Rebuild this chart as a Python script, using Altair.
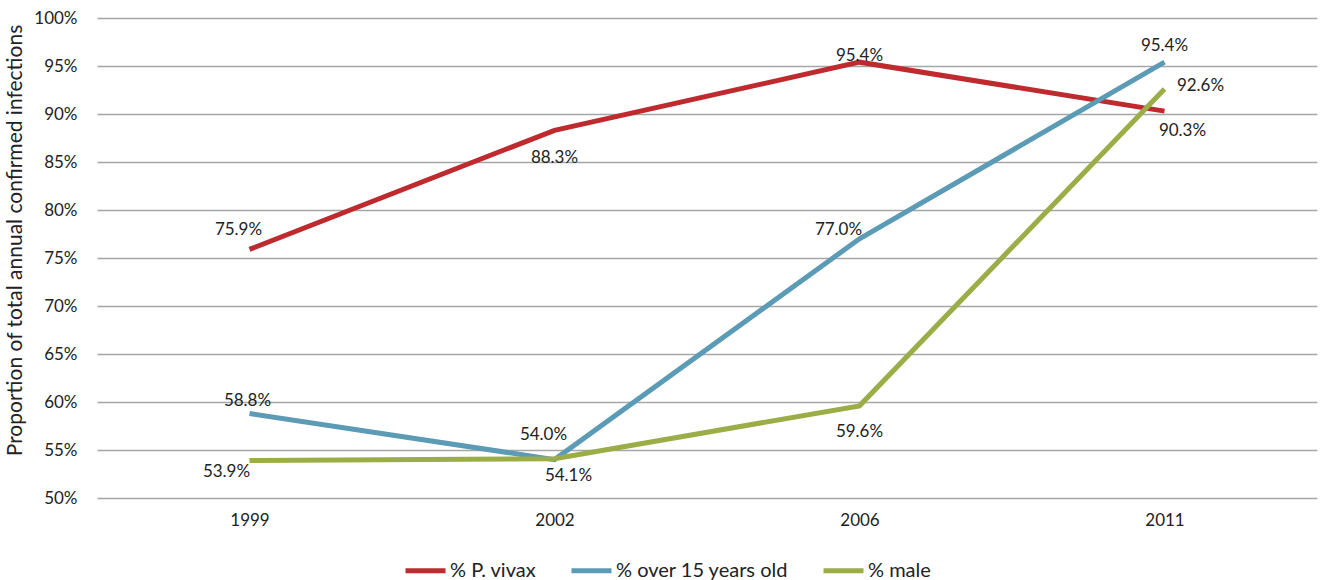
import altair as alt
import pandas as pd

years = ["1999", "2002", "2006", "2011"]
series = ["% P. vivax", "% over 15 years old", "% male"]
vivax = [75.9, 88.3, 95.4, 90.3]
over15 = [58.8, 54.0, 77.0, 95.4]
male = [53.9, 54.1, 59.6, 92.6]
colors = ["#BE2A2E", "#5B9BB5", "#9BAD47"]
y_ticks = [50, 55, 60, 65, 70, 75, 80, 85, 90, 95, 100]

rows = []
for name, vals in zip(series, [vivax, over15, male]):
    for yr, v in zip(years, vals):
        rows.append({"Year": yr, "Series": name, "Value": v, "Label": f"{v:.1f}%"})
df = pd.DataFrame(rows)

FONT = "Lato"

# label placement per point (dx, dy) in pixels
offsets = {
    ("% P. vivax", "1999"): (-11, -19),
    ("% P. vivax", "2002"): (0, 28),
    ("% P. vivax", "2006"): (0, -6),
    ("% P. vivax", "2011"): (18, 20),
    ("% over 15 years old", "1999"): (-2, -13),
    ("% over 15 years old", "2002"): (-11, -25),
    ("% over 15 years old", "2006"): (-21, -9),
    ("% over 15 years old", "2011"): (0, -16),
    ("% male", "1999"): (-23, 11),
    ("% male", "2002"): (14, 17),
    ("% male", "2006"): (0, 26),
    ("% male", "2011"): (36, -3),
}

x_enc = alt.X("Year:N", sort=years, title=None,
              scale=alt.Scale(type="point", padding=0.5),
              axis=alt.Axis(labelAngle=0, ticks=False, domain=False, grid=False,
                            labelPadding=14))
y_enc = alt.Y("Value:Q", scale=alt.Scale(domain=[50, 100], nice=False, zero=False),
              title="Proportion of total annual confirmed infections",
              axis=alt.Axis(values=y_ticks, labelExpr="datum.value + '%'",
                            ticks=False, domain=False, grid=True,
                            gridColor="#A6A6A6", gridWidth=1.5,
                            labelPadding=20, titlePadding=8, titleY=222))
color_enc = alt.Color("Series:N", sort=series,
                      scale=alt.Scale(domain=series, range=colors),
                      legend=alt.Legend(title=None, orient="none", direction="horizontal",
                                        legendX=306, legendY=530,
                                        symbolType="stroke", symbolSize=1600,
                                        symbolStrokeWidth=5, labelFont=FONT,
                                        labelFontSize=20, labelColor="#222",
                                        labelLimit=400,
                                        columnPadding=24, labelOffset=2))

base = alt.Chart(df)
lines = base.mark_line(strokeWidth=5).encode(x=x_enc, y=y_enc, color=color_enc)

layers = [lines]
for (s, yr), (dx, dy) in offsets.items():
    t = base.transform_filter(
        (alt.datum.Series == s) & (alt.datum.Year == yr)
    ).mark_text(font=FONT, fontSize=17, color="#222", dx=dx, dy=dy).encode(
        x=alt.X("Year:N", sort=years),
        y=alt.Y("Value:Q"),
        text="Label:N")
    layers.append(t)

chart = alt.layer(*layers).properties(
    width=1220, height=480,
    background="white",
    autosize=alt.AutoSizeParams(type="none"),
    padding={"left": 97, "top": 18, "right": 5, "bottom": 82},
).configure(
    view=alt.ViewConfig(stroke=None),
    axis=alt.AxisConfig(labelFont=FONT, labelFontSize=17, labelColor="#222",
                        titleFont=FONT, titleFontSize=21, titleFontWeight="normal",
                        titleColor="#222"),
)

chart.save("out.html", embed_options={"renderer": "svg", "actions": False})
